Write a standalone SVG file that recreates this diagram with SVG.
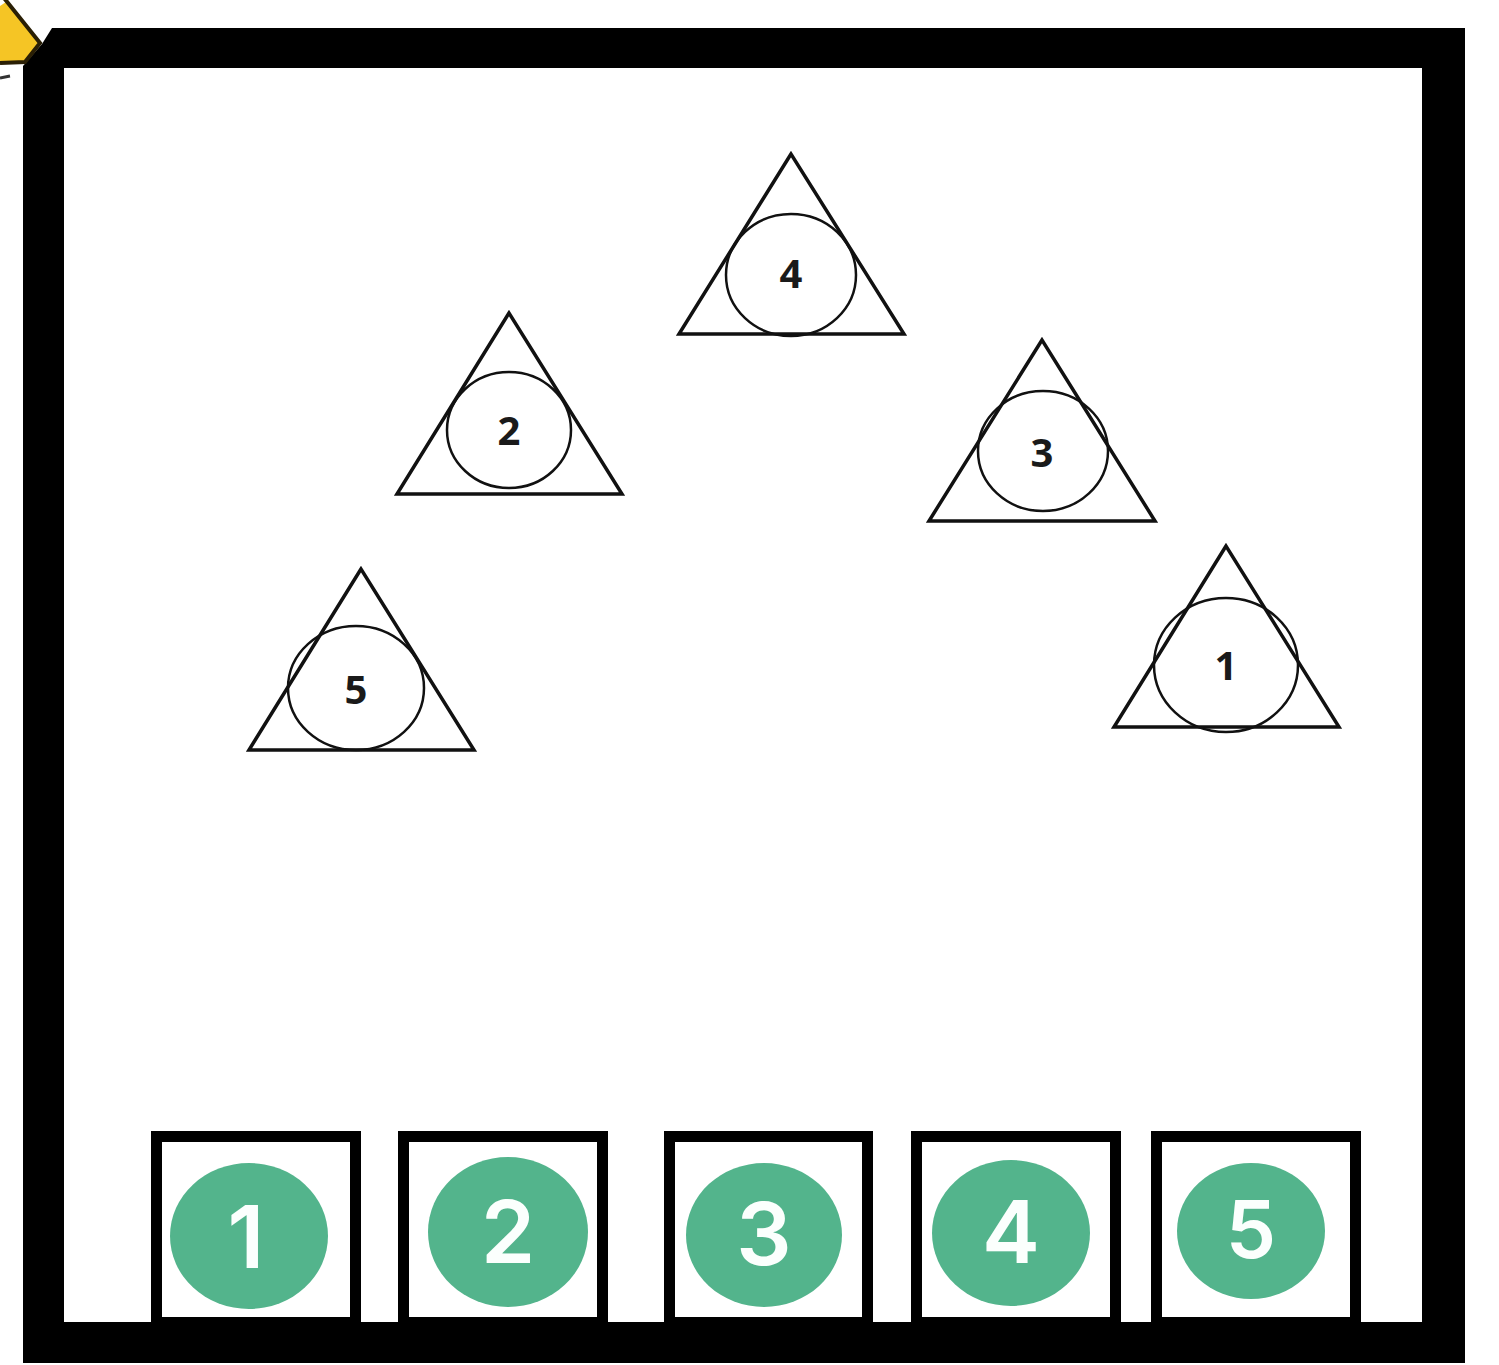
<svg xmlns="http://www.w3.org/2000/svg" width="1499" height="1365" viewBox="0 0 1499 1365">
<style>
.tri{fill:none;stroke:#111;stroke-width:3.500;stroke-linejoin:miter}
.cir{fill:none;stroke:#111;stroke-width:2.500}
.num{font-family:"Noto Sans","Open Sans",sans-serif;font-weight:700;font-size:40px;fill:#1a1a1a;text-anchor:middle}
.slot{fill:#fff;stroke:#000;stroke-width:11}
.ball{fill:#53b48c}
.bn{font-family:Inter,"Liberation Sans",sans-serif;font-weight:600;font-size:87px;fill:#fbfffd;text-anchor:middle}
</style>
<rect width="1499" height="1365" fill="#fff"/>
<g id="frame"><path fill-rule="evenodd" fill="#000" d="M52 28H1465V1363H23V66L42 44ZM64 68V1322H1422V68Z"/></g>
<g id="marker"><path d="M0 6L6 2L39 43L24 61L0 62Z" fill="#f5c525"/><path d="M4 -2L40 43L25 62L0 63" fill="none" stroke="#2a1f05" stroke-width="4"/><path d="M0 78L10 76" fill="none" stroke="#333" stroke-width="3"/></g>
<g id="t4"><path class="tri" d="M791 154L679 334H904Z"/><ellipse class="cir" cx="791" cy="275" rx="65" ry="61"/><text class="num" x="791" y="288">4</text></g>
<g id="t2"><path class="tri" d="M509 313L397 494H622Z"/><ellipse class="cir" cx="509" cy="430" rx="62" ry="58"/><text class="num" x="509" y="445">2</text></g>
<g id="t3"><path class="tri" d="M1042 340L929 521H1155Z"/><ellipse class="cir" cx="1043" cy="451" rx="65" ry="60"/><text class="num" x="1042" y="467">3</text></g>
<g id="t5"><path class="tri" d="M361 569L249 750H474Z"/><ellipse class="cir" cx="356" cy="688" rx="68" ry="62"/><text class="num" x="356" y="704">5</text></g>
<g id="t1"><path class="tri" d="M1226 546L1114 727H1339Z"/><ellipse class="cir" cx="1226" cy="665" rx="72" ry="67"/><text class="num" x="1226" y="680">1</text></g>
<g id="s1"><rect class="slot" x="156.500" y="1136.500" width="199" height="186"/><ellipse class="ball" cx="249" cy="1236" rx="79" ry="73"/><text class="bn" x="246" y="1268">1</text></g>
<g id="s2"><rect class="slot" x="403.500" y="1136.500" width="199" height="186"/><ellipse class="ball" cx="508" cy="1232" rx="80" ry="75"/><text class="bn" x="508" y="1263">2</text></g>
<g id="s3"><rect class="slot" x="669.500" y="1136.500" width="198" height="186"/><ellipse class="ball" cx="764" cy="1235" rx="78" ry="72"/><text class="bn" x="764" y="1265">3</text></g>
<g id="s4"><rect class="slot" x="916.500" y="1136.500" width="199" height="186"/><ellipse class="ball" cx="1011" cy="1233" rx="79" ry="73"/><text class="bn" x="1011" y="1263">4</text></g>
<g id="s5"><rect class="slot" x="1156.500" y="1136.500" width="199" height="186"/><ellipse class="ball" cx="1251" cy="1231" rx="74" ry="68"/><text class="bn" x="1251" y="1258" style="font-size:80px">5</text></g>
</svg>
